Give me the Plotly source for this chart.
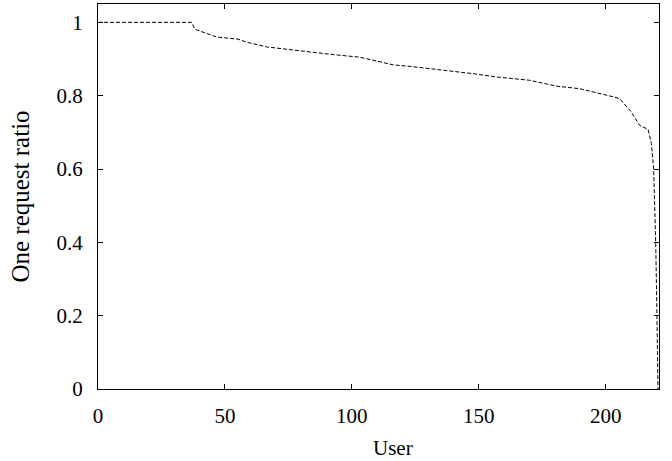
import plotly.graph_objects as go

users = [0, 36.9, 38.2, 46.7, 55.2, 58.5, 66.4, 78.9, 92.6, 103.1, 109.7, 116.3, 122.8,
         133.3, 147.8, 157, 170, 180.6, 189.8, 202.9, 205.5, 210, 213.4, 216.7, 218,
         218.9, 219.7, 220.2, 220.6]
ratio = [1, 1, 0.981, 0.960, 0.954, 0.946, 0.933, 0.922, 0.912, 0.905, 0.894, 0.884, 0.880,
         0.872, 0.860, 0.851, 0.842, 0.826, 0.819, 0.797, 0.792, 0.756, 0.719, 0.708, 0.67,
         0.6, 0.4, 0.2, 0]

x_ticks = [0, 50, 100, 150, 200]
y_ticks = [0, 0.2, 0.4, 0.6, 0.8, 1]
y_tick_labels = ["0", "0.2", "0.4", "0.6", "0.8", "1"]

font = dict(family="Liberation Serif", size=21, color="black")

fig = go.Figure()
fig.add_trace(go.Scatter(x=users, y=ratio, mode="lines", cliponaxis=False,
                         line=dict(color="black", width=1, dash="4px,2px"),
                         showlegend=False))

fig.update_layout(
    width=672, height=461,
    margin=dict(l=98, r=13, t=4, b=72),
    paper_bgcolor="white", plot_bgcolor="white",
    font=font,
    xaxis=dict(range=[0, 221], tickvals=x_ticks, ticks="inside", ticklen=5,
               tickcolor="black", showline=True, linecolor="black", linewidth=1,
               mirror="ticks", showgrid=False, zeroline=False, automargin=False,
               ticklabelstandoff=8, tickfont=font),
    yaxis=dict(range=[0, 1.05], tickvals=y_ticks, ticktext=y_tick_labels,
               ticks="inside", ticklen=5, tickcolor="black", showline=True,
               linecolor="black", linewidth=1, mirror="ticks", showgrid=False,
               zeroline=False, automargin=False, ticklabelstandoff=10,
               title=dict(text="One request ratio", standoff=19),
               tickfont=font),
    annotations=[dict(text="User", xref="paper", yref="paper", x=0.526, y=-0.152,
                      xanchor="center", yanchor="middle", showarrow=False, font=font)],
)

fig.write_html("out.html", post_script="document.body.style.margin='0';",
               config={"displayModeBar": False})
